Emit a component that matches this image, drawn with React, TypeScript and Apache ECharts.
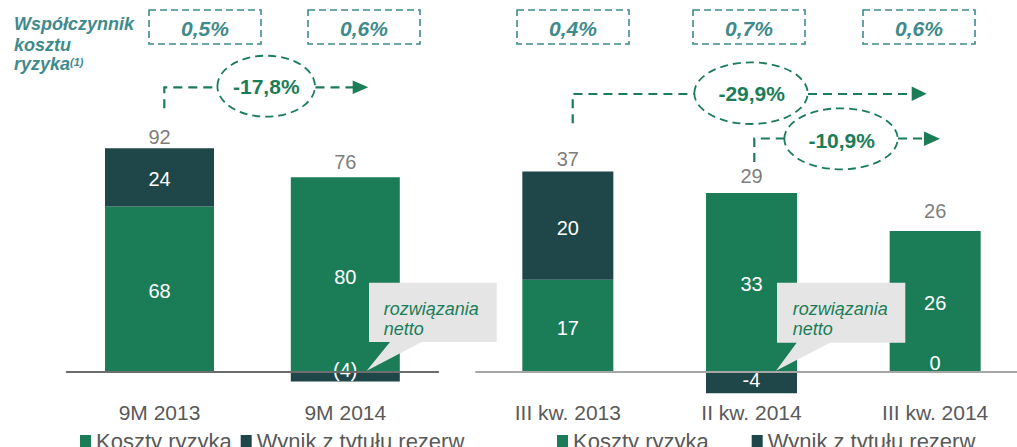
import React, { useEffect, useRef } from "react";
import * as echarts from "echarts";

// ---------------- data ----------------
const leftCategories = ["9M 2013", "9M 2014"];
const leftRiskCosts = [68, 80];
const leftProvisions = [24, -4];
const leftTotals = [92, 76];

const rightCategories = ["III kw. 2013", "II kw. 2014", "III kw. 2014"];
const rightRiskCosts = [17, 33, 26];
const rightProvisions = [20, -4, 0];
const rightTotals = [37, 29, 26];

const seriesNames = ["Koszty ryzyka", "Wynik z tytułu rezerw"];
const costOfRiskRatios = ["0,5%", "0,6%", "0,4%", "0,7%", "0,6%"];
const changeLabels = ["-17,8%", "-29,9%", "-10,9%"];
const ratioTitleLines = ["Współczynnik", "kosztu", "ryzyka"];
const ratioFootnote = "(1)";
const calloutLines = ["rozwiązania", "netto"];

// ---------------- styles / layout ----------------
const GREEN = "#1a7d58";
const DARK = "#1f4648";
const TEAL = "#3e8a8c";
const GRAY = "#595959";
const CALLOUT_FILL = "#e5e5e5";
const FONT = "'Liberation Sans', Arial, Helvetica, sans-serif";

// zero line of both panels sits at y = 371.7; both grids end at y = 396
const LEFT_GRID = { left: 66.6, width: 371.6, top: 55.8, height: 340.2 };
const RIGHT_GRID = { left: 476, width: 551, top: 101.1, height: 294.9 };
const LEFT_Y = { min: -10, max: 130 };
const RIGHT_Y = { min: -4.5, max: 50 };
const LEFT_BAR_W = 109;
const RIGHT_BAR_W = 91;
const LEFT_TOTAL_DIST = [1, 4.5];
const RIGHT_TOTAL_DIST = [1.5, 7, 9.5];
const AXIS_LABEL_MARGIN = 6;

const RATIO_BOXES = [
  { x: 149, width: 112 },
  { x: 308, width: 112 },
  { x: 517, width: 112 },
  { x: 693, width: 112 },
  { x: 863, width: 112 },
];
const RATIO_BOX_Y = 10;
const RATIO_BOX_H = 34;
const RATIO_TEXT_Y = 28.2;

const CHANGE_ARROWS = [
  {
    lead: [[164.3, 108.3], [164.3, 87.3], [217.3, 87.3]],
    ellipse: { cx: 266.2, cy: 86.2, rx: 48.8, ry: 30.5 },
    tail: [[315.5, 87.3], [353, 87.3]],
    head: { x0: 352.7, x1: 368.3, y: 87.3, half: 6.7 },
    textX: 266.3,
    textY: 86.8,
  },
  {
    lead: [[572.7, 123.3], [572.7, 94], [694.3, 94]],
    ellipse: { cx: 751, cy: 93.2, rx: 56.7, ry: 30.8 },
    tail: [[808, 94], [912, 94]],
    head: { x0: 911.7, x1: 926.7, y: 93.8, half: 7.3 },
    textX: 751.7,
    textY: 93.6,
  },
  {
    lead: [[754.3, 162], [754.3, 138.5], [784.3, 138.5]],
    ellipse: { cx: 841, cy: 138.8, rx: 56.7, ry: 30.5 },
    tail: [[898, 138.5], [924.5, 138.5]],
    head: { x0: 924, x1: 940, y: 138.8, half: 7.2 },
    textX: 841.7,
    textY: 140.3,
  },
];

const CALLOUTS = [
  { x: 369, y: 282.7, w: 127.7, h: 59.3, tailL: [390, 342], tip: [366.7, 370.7], tailR: [421.7, 342], textX: 383.7 },
  { x: 777, y: 282.7, w: 128.3, h: 60, tailL: [796.7, 342.7], tip: [776, 370.7], tailR: [830, 342.7], textX: 792.7 },
];
const CALLOUT_TEXT_Y = [308.5, 329];

const TITLE_X = 14;
const TITLE_Y = [24.4, 44.7, 64.4];
const FOOTNOTE_POS = [70, 62];

// ---------------- helpers ----------------
const stackTop = (a: number[], b: number[]) =>
  a.map((v, i) => Math.max(v, 0) + Math.max(b[i], 0));

const labelOffset = (v: number, negOffset: number) => (v > 0 ? [0, 2] : [0, negOffset]);

const insideLabel = {
  show: true,
  position: "inside",
  color: "#ffffff",
  fontSize: 20,
  lineHeight: 20,
  fontFamily: FONT,
};

// zero-valued segments would stack on top of the positive part, so their
// label is drawn separately at the zero line (see zeroLabelSeries)
function barData(values: number[], negOffset: number) {
  return values.map((v) => ({
    value: v,
    label: { show: v !== 0, offset: labelOffset(v, negOffset) },
  }));
}

function zeroLabelSeries(values: number[], axisIdx: number) {
  return {
    type: "scatter",
    xAxisIndex: axisIdx,
    yAxisIndex: axisIdx,
    symbol: "circle",
    symbolSize: 1,
    itemStyle: { color: "rgba(0,0,0,0)" },
    silent: true,
    z: 10,
    data: values.map((v) => (v === 0 ? v : "-")),
    label: {
      show: true,
      position: "top",
      distance: 0,
      offset: [0, 2],
      color: "#ffffff",
      opacity: 1,
      textBorderWidth: 0,
      fontSize: 20,
      lineHeight: 20,
      fontFamily: FONT,
      formatter: (p: any) => String(p.value),
    },
  };
}

function totalsSeries(tops: number[], totals: number[], dists: number[], axisIdx: number) {
  return {
    type: "scatter",
    xAxisIndex: axisIdx,
    yAxisIndex: axisIdx,
    symbol: "circle",
    symbolSize: 1,
    itemStyle: { color: "rgba(0,0,0,0)" },
    silent: true,
    z: 5,
    data: tops.map((t, i) => ({ value: t, label: { distance: dists[i] } })),
    label: {
      show: true,
      position: "top",
      color: GRAY,
      fontSize: 20,
      lineHeight: 20,
      fontFamily: FONT,
      formatter: (p: any) => String(totals[p.dataIndex]),
    },
  };
}

function buildGraphics() {
  const els: any[] = [];
  ratioTitleLines.forEach((t, i) => {
    els.push({
      type: "text",
      z: 100,
      style: {
        text: t,
        x: TITLE_X,
        y: TITLE_Y[i],
        fill: TEAL,
        font: `italic bold 18px ${FONT}`,
        align: "left",
        verticalAlign: "middle",
      },
    });
  });
  els.push({
    type: "text",
    z: 100,
    style: {
      text: ratioFootnote,
      x: FOOTNOTE_POS[0],
      y: FOOTNOTE_POS[1],
      fill: TEAL,
      font: `italic bold 11px ${FONT}`,
      align: "left",
      verticalAlign: "middle",
    },
  });
  RATIO_BOXES.forEach((b, i) => {
    els.push({
      type: "rect",
      z: 100,
      shape: { x: b.x, y: RATIO_BOX_Y, width: b.width, height: RATIO_BOX_H },
      style: { fill: "none", stroke: TEAL, lineWidth: 1.6, lineDash: [7, 4] },
    });
    els.push({
      type: "text",
      z: 100,
      style: {
        text: costOfRiskRatios[i],
        x: b.x + b.width / 2,
        y: RATIO_TEXT_Y,
        fill: TEAL,
        font: `italic bold 21px ${FONT}`,
        align: "center",
        verticalAlign: "middle",
      },
    });
  });
  CHANGE_ARROWS.forEach((a, i) => {
    const dashed = { fill: "none", stroke: GREEN, lineWidth: 2.2, lineDash: [9, 6] };
    els.push({ type: "polyline", z: 100, shape: { points: a.lead }, style: dashed });
    els.push({ type: "polyline", z: 100, shape: { points: a.tail }, style: dashed });
    els.push({
      type: "ellipse",
      z: 100,
      shape: a.ellipse,
      style: { fill: "none", stroke: GREEN, lineWidth: 1.8, lineDash: [8, 5] },
    });
    els.push({
      type: "polygon",
      z: 100,
      shape: {
        points: [
          [a.head.x0, a.head.y - a.head.half],
          [a.head.x1, a.head.y],
          [a.head.x0, a.head.y + a.head.half],
        ],
      },
      style: { fill: GREEN },
    });
    els.push({
      type: "text",
      z: 100,
      style: {
        text: changeLabels[i],
        x: a.textX,
        y: a.textY,
        fill: GREEN,
        font: `bold 21px ${FONT}`,
        align: "center",
        verticalAlign: "middle",
      },
    });
  });
  CALLOUTS.forEach((c) => {
    els.push({
      type: "polygon",
      z: 100,
      shape: {
        points: [
          [c.x, c.y],
          [c.x + c.w, c.y],
          [c.x + c.w, c.y + c.h],
          c.tailR,
          c.tip,
          c.tailL,
          [c.x, c.y + c.h],
        ],
      },
      style: { fill: CALLOUT_FILL },
    });
    calloutLines.forEach((t, j) => {
      els.push({
        type: "text",
        z: 101,
        style: {
          text: t,
          x: c.textX,
          y: CALLOUT_TEXT_Y[j],
          fill: GREEN,
          font: `italic 18px ${FONT}`,
          align: "left",
          verticalAlign: "middle",
        },
      });
    });
  });
  return els;
}

function buildOption() {
  const catAxis = (gridIndex: number, data: string[], lineColor: string) => ({
    type: "category",
    gridIndex,
    data,
    z: 4,
    axisLine: { show: true, onZero: true, lineStyle: { color: lineColor, width: 2 } },
    axisTick: { show: false },
    axisLabel: { color: GRAY, fontSize: 21, fontFamily: FONT, margin: AXIS_LABEL_MARGIN, interval: 0 },
    splitLine: { show: false },
  });
  const legend = (left: number, itemGap: number) => ({
    left,
    top: 430,
    padding: 0,
    itemWidth: 11,
    itemHeight: 12,
    itemGap,
    selectedMode: false,
    data: seriesNames.map((n) => ({ name: n, icon: "rect" })),
    textStyle: { color: GRAY, fontSize: 22, fontFamily: FONT },
  });
  return {
    animation: false,
    backgroundColor: "#ffffff",
    textStyle: { fontFamily: FONT },
    grid: [
      { ...LEFT_GRID, containLabel: false, outerBoundsMode: "none" },
      { ...RIGHT_GRID, containLabel: false, outerBoundsMode: "none" },
    ],
    xAxis: [
      catAxis(0, leftCategories, "#6d6d6d"),
      catAxis(1, rightCategories, "#a6a6a6"),
    ],
    yAxis: [
      { type: "value", gridIndex: 0, min: LEFT_Y.min, max: LEFT_Y.max, show: false, splitLine: { show: false } },
      { type: "value", gridIndex: 1, min: RIGHT_Y.min, max: RIGHT_Y.max, show: false, splitLine: { show: false } },
    ],
    legend: [legend(80, 9), legend(557, 43)],
    series: [
      {
        name: seriesNames[0],
        type: "bar",
        xAxisIndex: 0,
        yAxisIndex: 0,
        stack: "left",
        barWidth: LEFT_BAR_W,
        itemStyle: { color: GREEN },
        label: { ...insideLabel },
        data: barData(leftRiskCosts, -7),
      },
      {
        name: seriesNames[1],
        type: "bar",
        xAxisIndex: 0,
        yAxisIndex: 0,
        stack: "left",
        barWidth: LEFT_BAR_W,
        itemStyle: { color: DARK },
        label: {
          ...insideLabel,
          formatter: (p: any) => (p.value < 0 ? `(${Math.abs(p.value)})` : String(p.value)),
        },
        data: barData(leftProvisions, -7),
      },
      {
        name: seriesNames[0],
        type: "bar",
        xAxisIndex: 1,
        yAxisIndex: 1,
        stack: "right",
        barWidth: RIGHT_BAR_W,
        itemStyle: { color: GREEN },
        label: { ...insideLabel },
        data: barData(rightRiskCosts, -2),
      },
      {
        name: seriesNames[1],
        type: "bar",
        xAxisIndex: 1,
        yAxisIndex: 1,
        stack: "right",
        barWidth: RIGHT_BAR_W,
        itemStyle: { color: DARK },
        label: { ...insideLabel },
        data: barData(rightProvisions, -2),
      },
      zeroLabelSeries(rightProvisions, 1),
      totalsSeries(stackTop(leftRiskCosts, leftProvisions), leftTotals, LEFT_TOTAL_DIST, 0),
      totalsSeries(stackTop(rightRiskCosts, rightProvisions), rightTotals, RIGHT_TOTAL_DIST, 1),
    ],
    graphic: { elements: buildGraphics() },
  };
}

export default function App() {
  const ref = useRef<HTMLDivElement>(null);
  useEffect(() => {
    if (!ref.current) return;
    const chart = echarts.init(ref.current, undefined, { renderer: "svg" });
    chart.setOption(buildOption() as any);
    return () => chart.dispose();
  }, []);
  return (
    <div
      ref={ref}
      style={{ position: "fixed", left: 0, top: 0, width: 1017, height: 447, background: "#fff" }}
    />
  );
}
